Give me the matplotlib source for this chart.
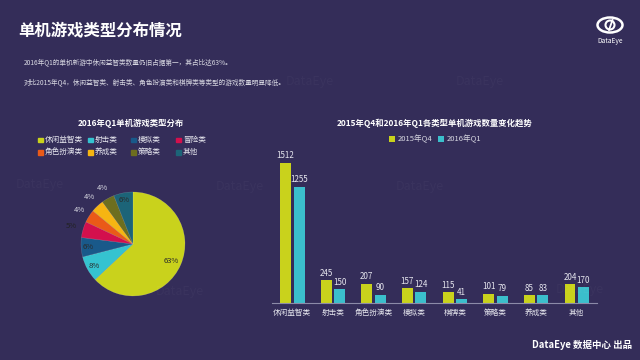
import numpy as np
import matplotlib
matplotlib.use("Agg")
import matplotlib.pyplot as plt
from matplotlib.patches import Ellipse, Circle, Rectangle

plt.rcParams['font.family'] = ['Noto Sans CJK SC', 'DejaVu Sans']

# ---------------- data ----------------
pie_labels = ['休闲益智类', '射击类', '模拟类', '冒险类', '角色扮演类', '养成类', '策略类', '其他']
pie_values = [63, 8, 6, 5, 4, 4, 4, 6]
pie_colors = ['#c9d21c', '#35c3d0', '#19598a', '#d3104d', '#ea5a18', '#f6b512', '#6d6e1f', '#1c6478']

bar_categories = ['休闲益智类', '射击类', '角色扮演类', '模拟类', '棋牌类', '策略类', '养成类', '其他']
q4_values = [1512, 245, 207, 157, 115, 101, 85, 204]
q1_values = [1255, 150, 90, 124, 41, 79, 83, 170]
series_names = ['2015年Q4', '2016年Q1']
bar_colors = ['#c9d21c', '#3bbfcc']

BG = '#342d59'
TXT = '#e6e6ee'

fig = plt.figure(figsize=(6.4, 3.6), dpi=100, facecolor=BG)

# ---------------- header ----------------
fig.text(18/640, 1-31/360, '单机游戏类型分布情况', color='white', fontsize=11.8,
         fontweight='bold', va='center', ha='left')
fig.text(24/640, 1-62/360, '2016年Q1的单机新游中休闲益智类数量仍旧占据第一，其占比达63%。',
         color='#d8d8e2', fontsize=4.8, va='center', ha='left')
fig.text(24/640, 1-82/360, '对比2015年Q4，休闲益智类、射击类、角色扮演类和棋牌类等类型的游戏数量明显降低。',
         color='#d8d8e2', fontsize=4.8, va='center', ha='left')

# logo
lax = fig.add_axes([596/640, 1-36/360, 28/640, 22/360])
lax.set_xlim(-1.4, 1.4); lax.set_ylim(-1.1, 1.1); lax.axis('off')
lax.add_patch(Ellipse((0, 0), 2.5, 1.5, fill=False, ec='white', lw=1.8))
lax.add_patch(Circle((0, 0), 0.45, fill=False, ec='white', lw=1.5))
lax.plot([-0.1, 0.25], [-0.5, 0.5], color='white', lw=1.3)
fig.text(610/640, 1-41/360, 'DataEye', color='white', fontsize=4.8, ha='center', va='center')

# faint watermarks
for (wx, wy) in [(310, 82), (480, 82), (40, 185), (180, 292), (420, 186), (580, 290), (240, 186)]:
    fig.text(wx/640, 1-wy/360, 'DataEye', color='white', alpha=0.03, fontsize=9,
             ha='center', va='center')

# footer
fig.text(632/640, 1-345/360, 'DataEye 数据中心 出品', color='white', fontsize=6.8,
         fontweight='bold', ha='right', va='center')

# ---------------- pie ----------------
fig.text(131/640, 1-123/360, '2016年Q1单机游戏类型分布', color='white', fontsize=6,
         fontweight='bold', ha='center', va='center')

pax = fig.add_axes([68/640, 1-309/360, 130/640, 130/360])
wedges, _ = pax.pie(pie_values, colors=pie_colors, startangle=90, counterclock=False,
                    wedgeprops=dict(linewidth=0.3, edgecolor='#ffffff40'))
pax.set_aspect('equal')
pax.set_facecolor(BG)
for w, v in zip(wedges, pie_values):
    mid = np.deg2rad((w.theta1 + w.theta2) / 2)
    if v >= 6:
        r = 0.8 if v > 10 else 0.86
        col = '#2a2a2a'
    else:
        r = 1.23
        col = '#222222' if v == 5 else '#d8d8e2'
    pax.text(r*np.cos(mid), r*np.sin(mid), f'{v}%', color=col, fontsize=5.5,
             ha='center', va='center')

# pie legend
col_x = [40, 90, 133, 178]
row_y = [140, 152]
for i, (lab, c) in enumerate(zip(pie_labels, pie_colors)):
    r, k = divmod(i, 4)
    x = col_x[k]; y = row_y[r]
    fig.patches.append(Rectangle(((x-2.5)/640, 1-(y+2.5)/360), 5/640, 5/360,
                                 transform=fig.transFigure, color=c, figure=fig))
    fig.text((x+5)/640, 1-y/360, lab, color=TXT, fontsize=5.5, ha='left', va='center')

# ---------------- bars ----------------
fig.text(435/640, 1-123/360, '2015年Q4和2016年Q1各类型单机游戏数量变化趋势', color='white',
         fontsize=6, fontweight='bold', ha='center', va='center')

bax = fig.add_axes([272/640, 1-303/360, 325/640, 153/360])
bax.set_facecolor(BG)
x = np.arange(len(bar_categories))
w = 0.27
off = 0.165
b1 = bax.bar(x - off, q4_values, w, color=bar_colors[0], label=series_names[0])
b2 = bax.bar(x + off, q1_values, w, color=bar_colors[1], label=series_names[1])
for bars in (b1, b2):
    for rect in bars:
        h = rect.get_height()
        bax.text(rect.get_x() + rect.get_width()/2, h + 25, f'{int(h)}', color=TXT,
                 fontsize=5.8, ha='center', va='bottom')
bax.set_xlim(-0.5, 7.5)
bax.set_ylim(0, 1650)
bax.set_yticks([])
bax.set_xticks(x)
bax.set_xticklabels(bar_categories, color=TXT, fontsize=5.5)
bax.tick_params(axis='x', length=0, pad=4)
for s in ['top', 'right', 'left']:
    bax.spines[s].set_visible(False)
bax.spines['bottom'].set_color('#8c8aa8')
bax.spines['bottom'].set_linewidth(0.8)

leg = fig.legend(handles=[b1, b2], labels=series_names, loc='center',
                 bbox_to_anchor=(435/640, 1-139/360), ncol=2, frameon=False,
                 fontsize=5.5, labelcolor='#d8d8e2', handlelength=0.8, handleheight=0.8,
                 handletextpad=0.3, columnspacing=0.8)

fig.savefig('out.png', dpi=100, facecolor=BG)
